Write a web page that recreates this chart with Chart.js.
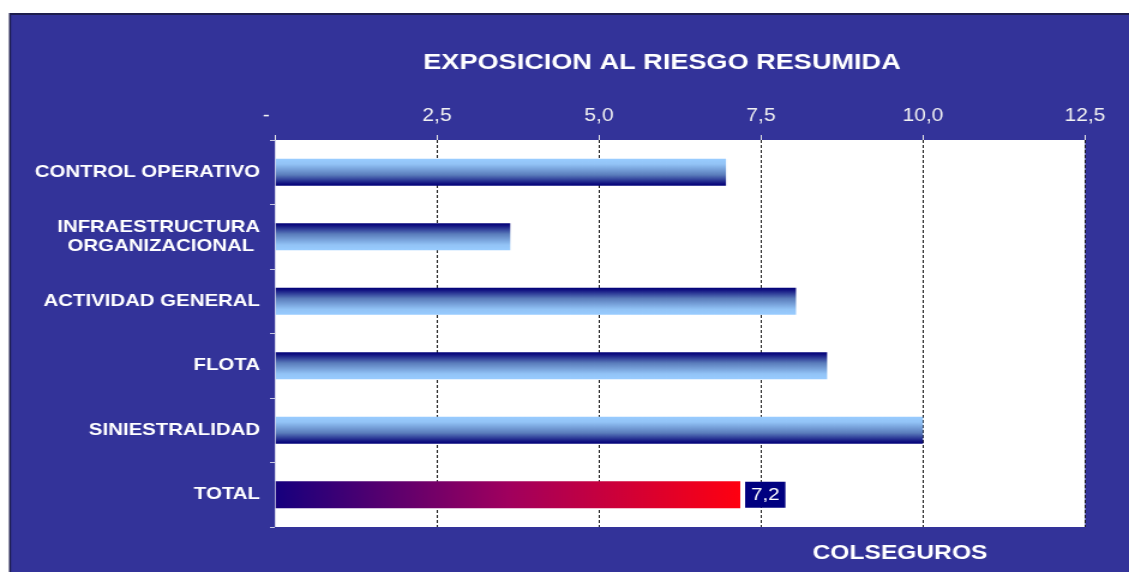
<!DOCTYPE html>
<html>
<head>
<meta charset="utf-8">
<title>Exposicion al riesgo resumida</title>
<script src="https://cdn.jsdelivr.net/npm/chart.js@4.4.1/dist/chart.umd.min.js"></script>
<style>
    html, body { margin: 0; padding: 0; background: #fff; overflow: hidden; }
</style>
</head>
<body>
<!-- the source picture is stretched sideways, so the canvas is drawn narrower and widened by css -->
<canvas id="exposicion-riesgo" width="941" height="572" style="display:block;width:1129px;height:572px"></canvas>
<script>
const categorias = [
    "CONTROL OPERATIVO",
    ["INFRAESTRUCTURA", "ORGANIZACIONAL "],
    "ACTIVIDAD GENERAL",
    "FLOTA",
    "SINIESTRALIDAD",
    "TOTAL",
];
const exposicion = [6.96, 3.63, 8.04, 8.52, 10.0, 7.18];
const etiquetasEje = ["-   ", "2,5", "5,0", "7,5", "10,0", "12,5"];
const titulo = "EXPOSICION AL RIESGO RESUMIDA";
const pie = "COLSEGUROS";

const ESTIRADO = 1129 / 941;
const FUENTE = "'Liberation Sans', Arial, Helvetica, sans-serif";
const FONDO = "#333399";
const MARCO = "#1d1d4d";
const GROSOR = 0.42;
// which blue bars have the light side on top
const claroArriba = [true, false, false, false, true];

function colorBarra(c) {
    const chart = c.chart;
    const i = c.dataIndex;
    const { x, y } = chart.scales;
    if (!chart.chartArea || !x || !y) return "#96c8fb";
    const g = chart.ctx;

    if (i === exposicion.length - 1) {
        const x0 = x.getPixelForValue(0);
        const x1 = x.getPixelForValue(exposicion[i]);
        const grad = g.createLinearGradient(x0, 0, x1, 0);
        grad.addColorStop(0, "#16007e");
        grad.addColorStop(0.5, "#a0005e");
        grad.addColorStop(1, "#ff0010");
        return grad;
    }

    const cy = y.getPixelForValue(i);
    const mitad = (y.height / categorias.length) * GROSOR / 2;
    const arriba = cy - mitad;
    const abajo = cy + mitad;
    const grad = claroArriba[i]
        ? g.createLinearGradient(0, arriba, 0, abajo)
        : g.createLinearGradient(0, abajo, 0, arriba);
    grad.addColorStop(0, "#99ccff");
    grad.addColorStop(0.2, "#92c3f6");
    grad.addColorStop(0.6, "#5a7cbb");
    grad.addColorStop(0.92, "#101080");
    grad.addColorStop(1, "#000078");
    return grad;
}

const fondo = {
    id: "fondo",
    beforeDraw(chart) {
        const { ctx, width, height, chartArea: a } = chart;
        ctx.save();
        ctx.fillStyle = "#fff";
        ctx.fillRect(0, 0, width, height);

        const fx = 9 / ESTIRADO;
        const fy = 13;
        ctx.fillStyle = MARCO;
        ctx.fillRect(fx, fy, width - fx, height - fy);
        ctx.fillStyle = FONDO;
        ctx.fillRect(fx + 2 / ESTIRADO, fy + 2, width, height);

        ctx.fillStyle = "#fff";
        ctx.fillRect(a.left, a.top, a.right - a.left, a.bottom - a.top);

        ctx.fillStyle = "#fff";
        ctx.textAlign = "center";
        ctx.textBaseline = "alphabetic";
        ctx.font = "bold 22.6px " + FUENTE;
        ctx.fillText(titulo, 662 / ESTIRADO, 68.5);
        ctx.font = "bold 20.5px " + FUENTE;
        ctx.fillText(pie, 900 / ESTIRADO, 559);
        ctx.restore();
    },
};

const etiquetaTotal = {
    id: "etiquetaTotal",
    afterDatasetsDraw(chart) {
        const i = exposicion.length - 1;
        const bar = chart.getDatasetMeta(0).data[i];
        if (!bar) return;
        const texto = exposicion[i].toFixed(1).replace(".", ",");
        const ctx = chart.ctx;
        ctx.save();
        ctx.font = "17px " + FUENTE;
        const w = ctx.measureText(texto).width + 10;
        const h = 26;
        const x0 = bar.x + 4;
        ctx.fillStyle = "#000080";
        ctx.fillRect(x0, bar.y - h / 2, w, h);
        ctx.fillStyle = "#fff";
        ctx.textAlign = "center";
        ctx.textBaseline = "middle";
        ctx.fillText(texto, x0 + w / 2, bar.y + 1);
        ctx.restore();
    },
};

(function () {
    "use strict";
    const ctx = document.getElementById("exposicion-riesgo");

    new Chart(ctx, {
        type: "bar",
        data: {
            labels: categorias,
            datasets: [
                {
                    data: exposicion,
                    backgroundColor: colorBarra,
                    borderWidth: 0,
                    barPercentage: GROSOR,
                    categoryPercentage: 1,
                },
            ],
        },
        options: {
            indexAxis: "y",
            responsive: false,
            devicePixelRatio: 1,
            animation: false,
            layout: {
                padding: { left: 0, top: 0, right: 941 - 1085 / ESTIRADO, bottom: 572 - 527 },
            },
            plugins: {
                legend: { display: false },
                tooltip: { enabled: false },
            },
            scales: {
                x: {
                    position: "top",
                    min: 0,
                    max: 12.5,
                    afterFit(scale) {
                        scale.height = 140;
                    },
                    ticks: {
                        stepSize: 2.5,
                        maxRotation: 0,
                        padding: 8,
                        color: "#f2f2f2",
                        font: { family: FUENTE, size: 17.5 },
                        callback: (v, i) => etiquetasEje[i],
                    },
                    grid: {
                        color: (c) => (c.tick && c.tick.value === 0 ? "rgba(0,0,0,0)" : "#1a1a1a"),
                        tickColor: "#e6e6e6",
                        tickLength: 5,
                        lineWidth: 1,
                    },
                    border: { display: false, dash: [3, 2] },
                },
                y: {
                    afterFit(scale) {
                        scale.width = 275 / ESTIRADO;
                    },
                    ticks: {
                        autoSkip: false,
                        crossAlign: "near",
                        padding: 8.3,
                        color: "#ffffff",
                        font: { family: FUENTE, size: 17, weight: "bold", lineHeight: 1.12 },
                    },
                    grid: {
                        drawOnChartArea: false,
                        tickColor: "#c8c8e0",
                        tickLength: 4.2,
                    },
                    border: { display: false },
                },
            },
        },
        plugins: [fondo, etiquetaTotal],
    });
})();
</script>
</body>
</html>
